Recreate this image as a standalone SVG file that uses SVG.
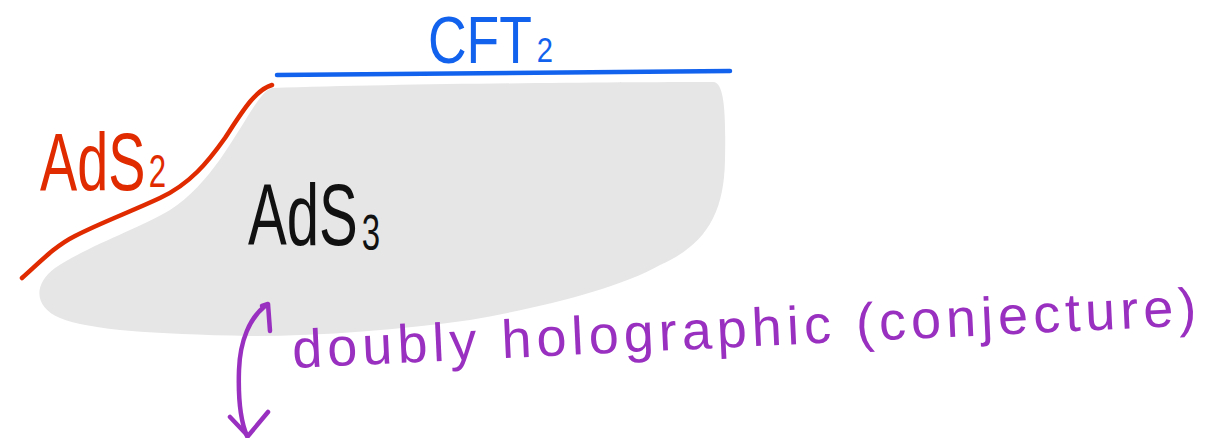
<svg xmlns="http://www.w3.org/2000/svg" width="1223" height="438" viewBox="0 0 1223 438">
<style>
.ink{fill:none;stroke-linecap:round;stroke-linejoin:round;stroke-width:4.5}
.hand{font-family:"Liberation Sans","DejaVu Sans",sans-serif}
</style>
<rect width="1223" height="438" fill="#ffffff"/>
<g id="bulk">
<path d="M272,88 C400,84 600,82 714,82 C724,84 726,110 725,160 C724,215 705,245 660,265 C620,288 540,308 470,320 C400,330 320,336 250,336 C150,334 90,330 60,318 C35,308 32,285 55,268 C90,245 140,228 170,210 C210,185 235,135 255,105 C262,95 266,90 272,88 Z" fill="#e6e6e6"/>
<text class="hand" font-size="88" fill="#111111" transform="translate(248 245) scale(0.66 1)">AdS<tspan dx="6" dy="5" font-size="50">3</tspan></text>
</g>
<g id="cft">
<path class="ink" d="M277,75 Q500,74 730,71" stroke="#1262ee"/>
<text class="hand" font-size="66" fill="#1262ee" transform="translate(428 63) scale(0.81 1)">CFT<tspan dx="6" dy="-1" font-size="36">2</tspan></text>
</g>
<g id="ads2">
<path class="ink" d="M22,278 C40,262 55,246 75,236 C100,223 130,212 160,198 C190,184 208,162 225,138 C242,112 255,90 272,85" stroke="#e02a00"/>
<text class="hand" font-size="82" fill="#e02a00" transform="translate(40 190) scale(0.68 1)">AdS<tspan dx="5" dy="-3" font-size="46">2</tspan></text>
</g>
<g id="connectors">
<path class="ink" d="M265,306 C250,318 240,340 239,370 C238,400 240,420 247,436" stroke="#9a30c0"/>
<path class="ink" d="M262,306 L268,304 L270,331" stroke="#9a30c0"/>
<path class="ink" d="M230,417 L248,436 L268,412" stroke="#9a30c0"/>
</g>
<g id="label">
<text class="hand" x="293" y="368" font-size="54" fill="#9a30c0" textLength="905" lengthAdjust="spacing" transform="rotate(-2.7 293 368)">doubly holographic (conjecture)</text>
</g>
</svg>
